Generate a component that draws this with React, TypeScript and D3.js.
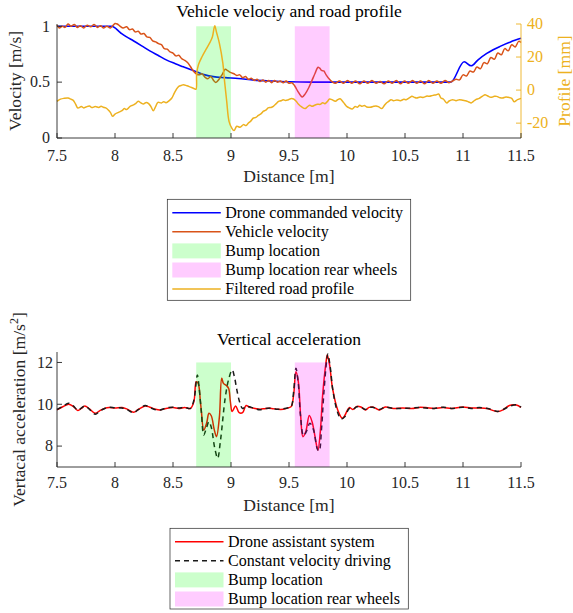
import React from "react";
import * as d3 from "d3";

// ---- data ----
const distanceTicks = [7.5, 8, 8.5, 9, 9.5, 10, 10.5, 11, 11.5];
const velocityTicks = [0, 0.5, 1];
const profileTicks = [-20, 0, 20, 40];
const accelTicks = [8, 10, 12];
const bumpFront: [number, number] = [8.7, 9.0];
const bumpRear: [number, number] = [9.55, 9.85];

type Pt = [number, number];

const commandedVelocity: Pt[] = [
  [7.5, 1], [7.97, 1], [8.05, 0.94], [8.1, 0.905], [8.158, 0.87], [8.23, 0.825], [8.3, 0.78],
  [8.37, 0.74], [8.446, 0.697], [8.52, 0.665], [8.589, 0.637], [8.65, 0.612], [8.704, 0.592],
  [8.776, 0.565], [8.848, 0.549], [8.95, 0.54], [9.063, 0.532], [9.2, 0.518], [9.35, 0.51],
  [9.5, 0.503], [9.7, 0.5], [10.894, 0.5], [11.01, 0.682], [11.07, 0.646], [11.13, 0.7],
  [11.205, 0.757], [11.26, 0.79], [11.32, 0.82], [11.41, 0.86], [11.5, 0.892],
];

const vehicleVelocity: Pt[] = [
  [7.5, 1.01], [7.52, 0.985], [7.545, 1.0], [7.57, 0.99], [7.595, 1.02], [7.62, 1.0], [7.65, 1.015],
  [7.675, 0.99], [7.7, 1.005], [7.73, 0.985], [7.76, 1.01], [7.79, 0.995], [7.82, 1.015], [7.85, 0.99],
  [7.875, 1.005], [7.9, 0.985], [7.93, 1.0], [7.96, 0.985], [7.985, 1.01], [8.0, 1.025], [8.02, 1.02],
  [8.045, 1.0], [8.07, 0.985], [8.1, 0.995], [8.125, 0.97], [8.15, 0.975], [8.175, 0.95], [8.2, 0.955],
  [8.225, 0.93], [8.25, 0.935], [8.275, 0.905], [8.3, 0.9], [8.325, 0.87], [8.35, 0.86], [8.375, 0.845],
  [8.4, 0.835], [8.425, 0.8], [8.45, 0.795], [8.475, 0.77], [8.5, 0.76], [8.525, 0.735], [8.55, 0.74],
  [8.575, 0.71], [8.6, 0.695], [8.625, 0.675], [8.65, 0.64], [8.675, 0.6], [8.7, 0.575], [8.725, 0.565],
  [8.75, 0.575], [8.775, 0.545], [8.8, 0.53], [8.825, 0.55], [8.85, 0.515], [8.87, 0.497], [8.9, 0.53],
  [8.925, 0.57], [8.95, 0.615], [8.975, 0.6], [9.0, 0.585], [9.025, 0.575], [9.05, 0.56], [9.075, 0.565],
  [9.1, 0.54], [9.125, 0.55], [9.15, 0.525], [9.175, 0.535], [9.2, 0.515], [9.225, 0.525], [9.25, 0.505],
  [9.275, 0.52], [9.3, 0.5], [9.325, 0.515], [9.35, 0.495], [9.375, 0.515], [9.4, 0.5], [9.425, 0.51],
  [9.45, 0.495], [9.475, 0.51], [9.5, 0.49], [9.525, 0.495], [9.55, 0.465], [9.575, 0.42], [9.6, 0.38],
  [9.615, 0.367], [9.64, 0.395], [9.67, 0.45], [9.7, 0.52], [9.725, 0.58], [9.75, 0.634], [9.765, 0.625],
  [9.78, 0.605], [9.8, 0.6], [9.82, 0.565], [9.845, 0.53], [9.87, 0.505], [9.9, 0.49], [9.935, 0.51],
  [9.97, 0.49], [10.005, 0.515], [10.04, 0.49], [10.075, 0.51], [10.11, 0.485], [10.145, 0.51],
  [10.18, 0.49], [10.215, 0.515], [10.25, 0.49], [10.285, 0.505], [10.32, 0.485], [10.355, 0.51],
  [10.39, 0.49], [10.425, 0.515], [10.46, 0.485], [10.495, 0.51], [10.53, 0.49], [10.565, 0.515],
  [10.6, 0.49], [10.635, 0.51], [10.67, 0.485], [10.705, 0.515], [10.74, 0.49], [10.775, 0.51],
  [10.81, 0.49], [10.845, 0.515], [10.88, 0.495], [10.91, 0.51], [10.94, 0.525], [10.97, 0.52],
  [11.0, 0.565], [11.03, 0.555], [11.06, 0.6], [11.09, 0.59], [11.12, 0.635], [11.15, 0.62],
  [11.18, 0.675], [11.21, 0.665], [11.24, 0.72], [11.27, 0.705], [11.3, 0.76], [11.33, 0.745],
  [11.36, 0.8], [11.39, 0.78], [11.42, 0.835], [11.45, 0.815], [11.48, 0.865], [11.5, 0.855],
];

const roadProfile: Pt[] = [
  [7.5, -6.8], [7.53, -5.5], [7.56, -5.0], [7.595, -4.8], [7.62, -5.5], [7.64, -6.2], [7.66, -8.5],
  [7.68, -10.8], [7.71, -10], [7.73, -10.8], [7.75, -10.2], [7.78, -9.6], [7.8, -10.6], [7.83, -10.0],
  [7.86, -10.5], [7.88, -9.8], [7.9, -10.4], [7.92, -10.8], [7.94, -11.9], [7.96, -13.5], [7.98, -15.9],
  [8.0, -14.5], [8.03, -13.5], [8.06, -12.5], [8.08, -11.2], [8.1, -11.8], [8.13, -9.8], [8.16, -9],
  [8.18, -8], [8.2, -6.8], [8.225, -7.8], [8.245, -8.4], [8.27, -7.5], [8.29, -8.2], [8.31, -10],
  [8.33, -12.5], [8.35, -10], [8.37, -7.4], [8.4, -7.8], [8.42, -7.0], [8.44, -7.6], [8.47, -6.2],
  [8.49, -4.8], [8.51, -2], [8.53, 0.5], [8.55, 2.3], [8.57, 2.8], [8.59, 3.3], [8.62, 2.6], [8.65, 1.8],
  [8.68, 1.0], [8.698, 0.5], [8.704, 10], [8.72, 15.5], [8.75, 20.2], [8.79, 25.3], [8.82, 29],
  [8.84, 32.3], [8.86, 39], [8.875, 35], [8.9, 28.3], [8.93, 16.2], [8.945, 5], [8.963, -6.8],
  [8.983, -18.9], [9.006, -22.9], [9.026, -24.5], [9.05, -21.9], [9.078, -22.5], [9.107, -20.9],
  [9.13, -21.5], [9.15, -19.9], [9.17, -18.8], [9.193, -16.9], [9.215, -16.5], [9.236, -15.3],
  [9.26, -14.2], [9.28, -12.8], [9.3, -12.2], [9.32, -10.8], [9.345, -10.5], [9.365, -9.8], [9.39, -8.2],
  [9.41, -6.8], [9.43, -6.5], [9.45, -5.8], [9.47, -6.3], [9.49, -6.0], [9.515, -5.2], [9.54, -5.4],
  [9.56, -6.6], [9.58, -8.4], [9.61, -10.2], [9.64, -11.2], [9.66, -10.0], [9.68, -9.2], [9.7, -9.8],
  [9.72, -9.2], [9.745, -8.6], [9.77, -8.6], [9.79, -7.6], [9.81, -8.2], [9.83, -7.0], [9.85, -5.4],
  [9.87, -5.8], [9.9, -6.8], [9.92, -5.8], [9.94, -5.2], [9.96, -6.6], [9.98, -8.4], [10.0, -10],
  [10.02, -10.8], [10.045, -11.4], [10.07, -10.0], [10.09, -10.4], [10.11, -9.2], [10.13, -9.8],
  [10.15, -9.4], [10.17, -10.2], [10.2, -10.4], [10.23, -9.8], [10.25, -9.6], [10.27, -10],
  [10.3, -11.2], [10.32, -9.5], [10.34, -7.8], [10.36, -6.8], [10.38, -5.8], [10.4, -6.4], [10.43, -6.0],
  [10.46, -6.4], [10.49, -5.6], [10.51, -5.8], [10.54, -4.6], [10.56, -3.8], [10.58, -4.4], [10.6, -4.8],
  [10.63, -4.2], [10.66, -4.4], [10.69, -3.6], [10.71, -3.8], [10.74, -3.2], [10.77, -2.8], [10.79, -2.4],
  [10.81, -4.8], [10.83, -5.4], [10.86, -7.8], [10.88, -6.6], [10.91, -5.8], [10.94, -6.4], [10.97, -5.8],
  [11.0, -6.2], [11.02, -6.4], [11.05, -7.2], [11.07, -7.8], [11.09, -6.8], [11.11, -5.8], [11.14, -5.0],
  [11.17, -3.6], [11.19, -2.8], [11.21, -3.4], [11.24, -4.4], [11.27, -3.8], [11.29, -3.8], [11.32, -4.6],
  [11.34, -4.8], [11.37, -4.2], [11.39, -4.4], [11.42, -5.0], [11.44, -7.0], [11.47, -5.8], [11.5, -5.0],
];

const accelDrone: Pt[] = [
  [7.5, 9.73], [7.55, 9.88], [7.6, 10.0], [7.64, 9.9], [7.68, 9.7], [7.71, 9.8], [7.74, 9.92], [7.78, 9.78],
  [7.83, 9.57], [7.87, 9.7], [7.91, 9.8], [7.95, 9.84], [8.0, 9.82], [8.06, 9.84], [8.1, 9.78], [8.16, 9.62],
  [8.2, 9.75], [8.26, 9.92], [8.3, 9.86], [8.35, 9.76], [8.39, 9.73], [8.44, 9.8], [8.5, 9.84], [8.55, 9.8],
  [8.6, 9.85], [8.65, 9.8], [8.68, 10.12], [8.7, 11.08], [8.717, 11.0], [8.735, 10.2], [8.745, 9.65],
  [8.765, 8.77], [8.79, 9.1], [8.81, 9.57], [8.83, 9.45], [8.855, 8.8], [8.875, 8.45], [8.9, 9.4],
  [8.92, 11.24], [8.935, 11.0], [8.96, 10.9], [8.98, 10.75], [8.995, 10.1], [9.01, 9.65], [9.04, 9.92],
  [9.07, 9.6], [9.1, 9.6], [9.13, 9.94], [9.16, 9.85], [9.19, 9.82], [9.25, 9.76], [9.3, 9.8], [9.35, 9.8],
  [9.4, 9.76], [9.45, 9.76], [9.5, 9.84], [9.52, 9.9], [9.54, 10.44], [9.56, 11.56], [9.58, 11.1],
  [9.6, 9.49], [9.62, 8.45], [9.645, 8.7], [9.675, 9.46], [9.7, 9.14], [9.74, 7.97], [9.75, 7.81],
  [9.77, 8.69], [9.79, 10.44], [9.82, 12.04], [9.83, 12.36], [9.85, 11.88], [9.875, 10.77], [9.92, 9.73],
  [9.96, 9.33], [9.98, 9.45], [10.02, 9.84], [10.05, 9.75], [10.085, 9.9], [10.12, 9.87], [10.16, 9.73],
  [10.19, 9.85], [10.22, 9.87], [10.25, 9.8], [10.28, 9.73], [10.33, 9.87], [10.4, 9.8], [10.48, 9.82],
  [10.56, 9.8], [10.62, 9.85], [10.68, 9.84], [10.75, 9.8], [10.83, 9.84], [10.9, 9.8], [11.0, 9.87],
  [11.07, 9.82], [11.14, 9.82], [11.21, 9.8], [11.25, 9.72], [11.3, 9.65], [11.35, 9.75], [11.4, 9.94],
  [11.46, 9.96], [11.5, 9.85],
];

const accelConstant: Pt[] = [
  [7.5, 9.75], [7.55, 9.9], [7.6, 10.05], [7.64, 9.92], [7.68, 9.72], [7.71, 9.82], [7.74, 9.92],
  [7.78, 9.76], [7.83, 9.52], [7.87, 9.68], [7.91, 9.8], [7.95, 9.86], [8.0, 9.83], [8.06, 9.82],
  [8.1, 9.76], [8.16, 9.6], [8.2, 9.74], [8.26, 9.94], [8.3, 9.85], [8.35, 9.74], [8.39, 9.73],
  [8.44, 9.82], [8.5, 9.86], [8.55, 9.82], [8.6, 9.85], [8.65, 9.8], [8.68, 10.2], [8.71, 11.4],
  [8.725, 10.8], [8.745, 9.6], [8.765, 8.53], [8.79, 8.9], [8.81, 9.17], [8.83, 8.9], [8.86, 7.9],
  [8.885, 7.42], [8.91, 8.3], [8.95, 10.3], [8.98, 11.2], [9.01, 11.64], [9.03, 11.3], [9.05, 10.7],
  [9.075, 10.1], [9.1, 9.8], [9.13, 9.9], [9.16, 9.88], [9.19, 9.82], [9.25, 9.74], [9.3, 9.8],
  [9.35, 9.82], [9.4, 9.76], [9.45, 9.78], [9.5, 9.84], [9.52, 9.9], [9.54, 10.6], [9.56, 11.72],
  [9.58, 11.0], [9.6, 9.4], [9.625, 8.5], [9.65, 8.7], [9.68, 9.09], [9.71, 8.8], [9.745, 7.85],
  [9.76, 7.76], [9.78, 8.8], [9.8, 10.5], [9.825, 12.1], [9.835, 12.4], [9.855, 11.8], [9.88, 10.6],
  [9.92, 9.6], [9.95, 9.3], [9.98, 9.4], [10.02, 9.8], [10.05, 9.76], [10.085, 9.88], [10.12, 9.86],
  [10.16, 9.75], [10.19, 9.84], [10.22, 9.86], [10.25, 9.8], [10.28, 9.75], [10.33, 9.86], [10.4, 9.8],
  [10.48, 9.8], [10.56, 9.82], [10.62, 9.84], [10.68, 9.82], [10.75, 9.8], [10.83, 9.86], [10.9, 9.8],
  [11.0, 9.86], [11.07, 9.8], [11.14, 9.84], [11.21, 9.8], [11.25, 9.74], [11.3, 9.66], [11.35, 9.76],
  [11.4, 9.9], [11.46, 9.98], [11.5, 9.86],
];

// ---- layout ----
const W = 573;
const H = 613;
const left = 57;
const right = 521;
const font = "'Liberation Serif', 'Times New Roman', Times, Tinos, 'Noto Serif', FreeSerif, 'DejaVu Serif', serif";
const axisColor = "#262626";
const profileColor = "#EDB120";

const x = d3.scaleLinear().domain([7.5, 11.5]).range([left, right]);
const yVel = d3.scaleLinear().domain([0, 1.0203]).range([138, 24]);
const yProf = d3.scaleLinear().domain([-29, 40]).range([138, 24]);
const yAcc = d3.scaleLinear().domain([7, 12.5]).range([467, 352]);

function linePath(data: Pt[], y: d3.ScaleLinear<number, number>, curve = d3.curveCatmullRom) {
  return d3.line<Pt>().x(d => x(d[0])).y(d => y(d[1])).curve(curve)(data) || "";
}

function XAxis({ y0, labelY, titleY }: { y0: number; labelY: number; titleY: number }) {
  return (
    <g>
      <line x1={left} x2={right} y1={y0} y2={y0} stroke={axisColor} strokeWidth={0.9} />
      {distanceTicks.map(t => (
        <g key={t}>
          <line x1={x(t)} x2={x(t)} y1={y0} y2={y0 - 5} stroke={axisColor} strokeWidth={0.9} />
          <text x={x(t)} y={labelY} textAnchor="middle" fontSize={16} fill={axisColor}>{t}</text>
        </g>
      ))}
      <text x={(left + right) / 2} y={titleY} textAnchor="middle" fontSize={17.6} fill={axisColor}>Distance [m]</text>
    </g>
  );
}

type LegendItem = { label: string; kind: "line" | "dash" | "patch"; color: string };

function Legend({ x0, y0, w, h, items }: { x0: number; y0: number; w: number; h: number; items: LegendItem[] }) {
  return (
    <g>
      <rect x={x0} y={y0} width={w} height={h} fill="#fff" stroke={axisColor} strokeWidth={0.7} />
      {items.map((it, i) => {
        const cy = y0 + 13.4 + i * 19.1;
        return (
          <g key={it.label}>
            {it.kind === "patch" ? (
              <rect x={x0 + 5} y={cy - 7.5} width={48.5} height={15} fill={it.color} />
            ) : (
              <line x1={x0 + 5} x2={x0 + 53.5} y1={cy} y2={cy} stroke={it.color} strokeWidth={1.5}
                strokeDasharray={it.kind === "dash" ? "5,4" : undefined} />
            )}
            <text x={x0 + 58} y={cy + 5.3} fontSize={16} fill="#000">{it.label}</text>
          </g>
        );
      })}
    </g>
  );
}

export default function App() {
  const bandsTop = [bumpFront, bumpRear].map((b, i) => (
    <rect key={i} x={x(b[0])} width={x(b[1]) - x(b[0])} y={yVel(1)} height={yVel(0) - yVel(1)}
      fill={i === 0 ? "#00ff00" : "#ff00ff"} fillOpacity={0.2} />
  ));
  const bandsBottom = [bumpFront, bumpRear].map((b, i) => (
    <rect key={i} x={x(b[0])} width={x(b[1]) - x(b[0])} y={yAcc(12)} height={yAcc(7) - yAcc(12)}
      fill={i === 0 ? "#00ff00" : "#ff00ff"} fillOpacity={0.2} />
  ));

  return (
    <svg width={W} height={H} style={{ position: "absolute", left: 0, top: 0, background: "#fff", fontFamily: font }}>
      {/* ---------- top chart ---------- */}
      <text x={289} y={17} textAnchor="middle" fontSize={17.6} fill="#000">Vehicle velociy and road profile</text>
      <path d={linePath(commandedVelocity, yVel, d3.curveMonotoneX)} fill="none" stroke="#0000ff" strokeWidth={1.6} />
      <path d={linePath(vehicleVelocity, yVel)} fill="none" stroke="#D95319" strokeWidth={1.5} />
      {bandsTop}
      <path d={linePath(roadProfile, yProf)} fill="none" stroke={profileColor} strokeWidth={1.5} />

      {/* left axis */}
      <line x1={left} x2={left} y1={24} y2={138} stroke={axisColor} strokeWidth={0.9} />
      {velocityTicks.map(t => (
        <g key={t}>
          <line x1={left} x2={left + 5} y1={yVel(t)} y2={yVel(t)} stroke={axisColor} strokeWidth={0.9} />
          <text x={50} y={yVel(t)} dy="0.33em" textAnchor="end" fontSize={16} fill={axisColor}>{t}</text>
        </g>
      ))}
      <text transform={`translate(21,81) rotate(-90)`} textAnchor="middle" fontSize={17.6} fill={axisColor}>Velocity [m/s]</text>

      {/* right axis */}
      <line x1={right} x2={right} y1={24} y2={138} stroke={profileColor} strokeWidth={0.9} />
      {profileTicks.map(t => (
        <g key={t}>
          <line x1={right} x2={right - 5} y1={yProf(t)} y2={yProf(t)} stroke={profileColor} strokeWidth={0.9} />
          <text x={527} y={yProf(t)} dy="0.33em" textAnchor="start" fontSize={16} fill={profileColor}>{t}</text>
        </g>
      ))}
      <text transform={`translate(570,81) rotate(-90)`} textAnchor="middle" fontSize={17.6} fill={profileColor}>Profile [mm]</text>

      <XAxis y0={138} labelY={161} titleY={182} />

      <Legend x0={167.3} y0={199.3} w={243.4} h={101} items={[
        { label: "Drone commanded velocity", kind: "line", color: "#0000ff" },
        { label: "Vehicle velocity", kind: "line", color: "#D95319" },
        { label: "Bump location", kind: "patch", color: "#ccffcc" },
        { label: "Bump location rear wheels", kind: "patch", color: "#ffccff" },
        { label: "Filtered road profile", kind: "line", color: profileColor },
      ]} />

      {/* ---------- bottom chart ---------- */}
      <text x={289} y={345} textAnchor="middle" fontSize={17.6} fill="#000">Vertical acceleration</text>
      <path d={linePath(accelDrone, yAcc)} fill="none" stroke="#ff0000" strokeWidth={1.5} />
      <path d={linePath(accelConstant, yAcc)} fill="none" stroke="#1a1a1a" strokeWidth={1.5} strokeDasharray="5,4" />
      {bandsBottom}

      <line x1={left} x2={left} y1={352} y2={467} stroke={axisColor} strokeWidth={0.9} />
      {accelTicks.map(t => (
        <g key={t}>
          <line x1={left} x2={left + 5} y1={yAcc(t)} y2={yAcc(t)} stroke={axisColor} strokeWidth={0.9} />
          <text x={53} y={yAcc(t)} dy="0.33em" textAnchor="end" fontSize={16} fill={axisColor}>{t}</text>
        </g>
      ))}
      <text transform={`translate(25,409.5) rotate(-90)`} textAnchor="middle" fontSize={17.6} fill={axisColor}>
        Vertacal acceleration [m/s<tspan dy={-7} fontSize={12}>2</tspan><tspan dy={7}>]</tspan>
      </text>

      <XAxis y0={467} labelY={488} titleY={511} />

      <Legend x0={170} y0={528.3} w={238.3} h={80.7} items={[
        { label: "Drone assistant system", kind: "line", color: "#ff0000" },
        { label: "Constant velocity driving", kind: "dash", color: "#1a1a1a" },
        { label: "Bump location", kind: "patch", color: "#ccffcc" },
        { label: "Bump location rear wheels", kind: "patch", color: "#ffccff" },
      ]} />
    </svg>
  );
}
